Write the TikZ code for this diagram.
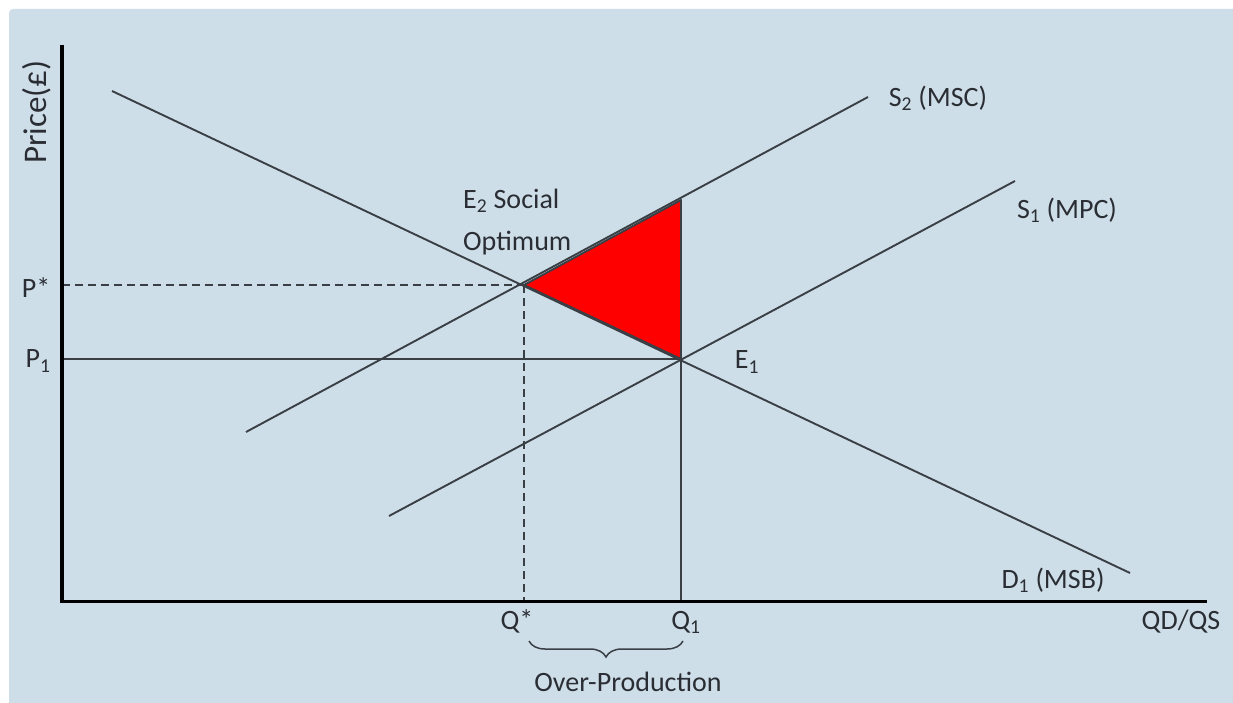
\documentclass[tikz,border=0pt]{standalone}
\usepackage{fontspec}
\setmainfont{Carlito}
\usetikzlibrary{decorations.pathreplacing}
\definecolor{bgblue}{HTML}{CEDEE8}
\definecolor{lineg}{HTML}{3A3F45}
\definecolor{txtg}{HTML}{2A2E34}
\tikzset{
  curve/.style={draw=lineg, line width=1.9pt},
  axis/.style={draw=black, line width=3.5pt},
  guide/.style={draw=lineg, line width=1.9pt},
  guidedash/.style={draw=lineg, line width=1.9pt, dash pattern=on 8pt off 5pt},
  lbl/.style={text=txtg, inner sep=0pt, font=\fontsize{28}{34}\selectfont},
}
\begin{document}
\begin{tikzpicture}[x=1pt,y=-1pt]
\useasboundingbox (0,0) rectangle (1233,703);
\fill[white] (0,0) rectangle (1233,703);
\fill[bgblue, rounded corners=4pt] (9,9) rectangle (1240,710);
% key points
\coordinate (O) at (62,601);
\coordinate (Ytop) at (62,45);
\coordinate (Xend) at (1207,601);
\coordinate (E2) at (524,285);
\coordinate (E1) at (681,359);
\coordinate (T) at (681,200);
\coordinate (Pstar) at (62,285);
\coordinate (Pone) at (62,359);
\coordinate (Qstar) at (524,601);
\coordinate (Qone) at (681,601);
\coordinate (Da) at (112,91);
\coordinate (Db) at (1130,573);
\coordinate (S2a) at (246,432);
\coordinate (S2b) at (868,97);
\coordinate (S1a) at (389,516);
\coordinate (S1b) at (1015,181);
% red triangle
\filldraw[fill=red, draw=lineg, line width=1.9pt, line join=round] (E2) -- (T) -- (E1) -- cycle;
% curves
\draw[curve] (Da) -- (Db);
\draw[curve] (S2a) -- (S2b);
\draw[curve] (S1a) -- (S1b);
% guides
\draw[guidedash] (Pstar) -- (E2);
\draw[guidedash] (E2) -- (Qstar);
\draw[guide] (Pone) -- (E1);
\draw[guide] (T) -- (Qone);
% axes
\draw[axis] (Ytop) -- (62,603);
\draw[axis, line width=3pt] (60,601) -- (Xend);
% brace
\draw[draw=lineg, line width=1.5pt, decorate, decoration={brace, mirror, amplitude=16pt}] (529,641) -- (683,641);
% labels
\node[lbl, rotate=90, font=\fontsize{33}{38}\selectfont] (ylab) at (37,112) {Price(£)};
\node[lbl] (lPs) at (36,288) {P*};
\node[lbl] (lP1) at (38,361) {P\textsubscript{1}};
\node[lbl] (lQs) at (517,621) {Q*};
\node[lbl] (lQ1) at (686,622) {Q\textsubscript{1}};
\node[lbl] (lOP) at (628,682) {Over-Production};
\node[lbl] (lQDQS) at (1181,622) {QD/QS};
\node[lbl] (lS2) at (938,98) {S\textsubscript{2} (MSC)};
\node[lbl] (lS1) at (1067,210) {S\textsubscript{1} (MPC)};
\node[lbl] (lD1) at (1053,580) {D\textsubscript{1} (MSB)};
\node[lbl] (lE1) at (747,362) {E\textsubscript{1}};
\node[lbl, anchor=west] (lE2) at (463,201) {E\textsubscript{2} Social};
\node[lbl, anchor=west] (lOpt) at (463,243) {Optimum};
\end{tikzpicture}
\end{document}
